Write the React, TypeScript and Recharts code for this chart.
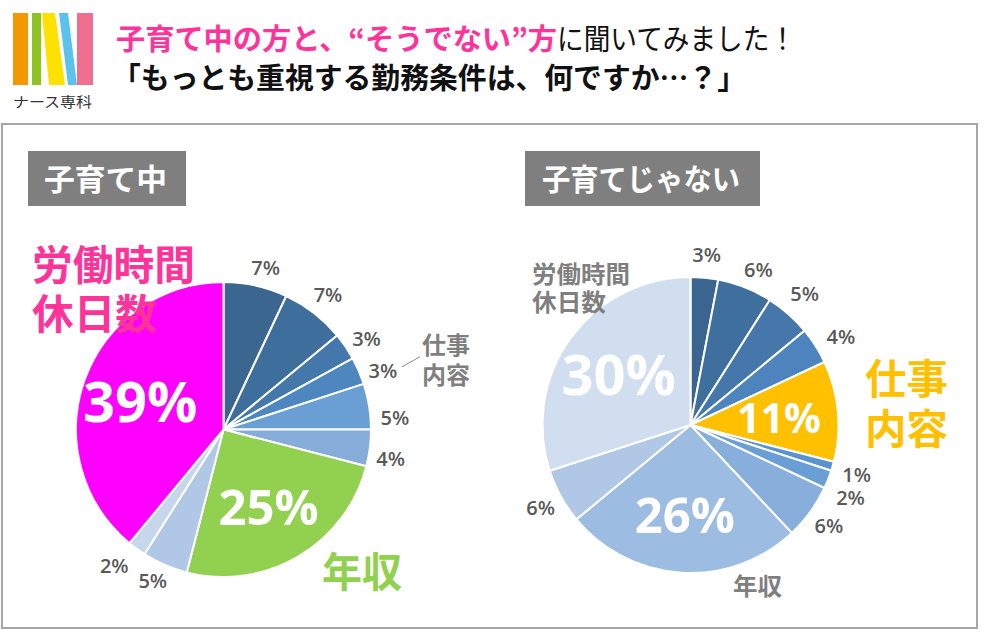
import { PieChart, Pie, Cell } from "recharts";

// 子育て中 (clockwise from 12 o'clock)
const leftCategories = ["項目A", "項目B", "項目C", "仕事内容", "項目D", "項目E", "年収", "項目F", "項目G", "労働時間・休日数"];
const leftShares = [7, 7, 3, 3, 5, 4, 25, 5, 2, 39];
const leftFeatured = ["年収", "労働時間・休日数"];

// 子育てじゃない
const rightCategories = ["項目A", "項目B", "項目C", "項目D", "仕事内容", "項目E", "項目F", "項目G", "年収", "項目H", "労働時間・休日数"];
const rightShares = [3, 6, 5, 4, 11, 1, 2, 6, 26, 6, 30];
const rightFeatured = ["仕事内容", "年収", "労働時間・休日数"];

const leftColors = ["#3A6690", "#3E6E9C", "#4477AA", "#4E87C0", "#6A9FD5", "#86ACD9", "#92D050", "#B0C8E6", "#C6D7EC", "#FF00FF"];
const rightColors = ["#3A6590", "#3F6F9D", "#4577AA", "#4E84BE", "#FFC000", "#5B93CF", "#6A9FD5", "#88AEDB", "#9DBCE2", "#B0C8E6", "#D0DEEF"];

const JP = "'Noto Sans CJK JP', 'Noto Sans', sans-serif";
const NUM = "'Open Sans', 'Noto Sans', sans-serif";
const RAD = Math.PI / 180;

const leftData = leftCategories.map((name, i) => ({ name, value: leftShares[i] }));
const rightData = rightCategories.map((name, i) => ({ name, value: rightShares[i] }));

// small hand nudges so the outside labels sit where Excel put them
const leftNudge: Record<number, [number, number]> = { 0: [5, 4], 2: [2, 5], 3: [3, 9], 4: [3, 15], 5: [-2, 8], 7: [-3, -5], 8: [-9, -2] };
const rightNudge: Record<number, [number, number]> = { 1: [5, 3], 2: [1, -3], 3: [6, 3], 5: [2, 2], 6: [1, 10] };

function makeLabel(featured: string[], bigSizes: Record<string, number>, nudge: Record<number, [number, number]>, leaderFor?: string) {
  return (props: any) => {
    const { cx, cy, midAngle, outerRadius, value, name, index } = props;
    const isBig = featured.includes(name);
    const r = isBig ? outerRadius * 0.6 : outerRadius + 23;
    const [nx, ny] = isBig ? [0, 0] : nudge[index] || [0, 0];
    const x = cx + r * Math.cos(-midAngle * RAD) + nx;
    const y = cy + r * Math.sin(-midAngle * RAD) + ny;
    if (isBig) {
      return (
        <text key={`l${index}`} x={x} y={y} fill="#fff" fontFamily={NUM} fontWeight={700}
          fontSize={bigSizes[name]} textAnchor="middle" dominantBaseline="central">
          {value}%
        </text>
      );
    }
    return (
      <g key={`l${index}`}>
        <text x={x} y={y} fill="#595959" fontFamily={NUM} fontWeight={600} fontSize={20}
          textAnchor="middle" dominantBaseline="central">
          {value}%
        </text>
        {name === leaderFor && (
          <line x1={x + 19} y1={y - 4} x2={x + 37} y2={y - 14} stroke="#8C8C8C" strokeWidth={1} />
        )}
      </g>
    );
  };
}

const leftLabel = makeLabel(leftFeatured, { "年収": 49, "労働時間・休日数": 56 }, leftNudge, "仕事内容");
const rightLabel = makeLabel(rightFeatured, { "仕事内容": 41, "年収": 49, "労働時間・休日数": 56 }, rightNudge);

function Logo() {
  return (
    <g>
      <rect x={13} y={13} width={15} height={72} fill="#F39800" />
      <rect x={32} y={13} width={9} height={72} fill="#8FC31F" />
      <polygon points="42,13 55,13 65,85 49,85" fill="#FFE100" />
      <polygon points="59,13 68,13 77,85 68,85" fill="#5BC2EE" />
      <rect x={77} y={13} width={16} height={72} fill="#EE6F8F" />
      <text x={13} y={107} fontFamily={JP} fontSize={14} fill="#333" textLength={79} lengthAdjust="spacingAndGlyphs">
        ナース専科
      </text>
    </g>
  );
}

export default function App() {
  return (
    <div style={{ position: "absolute", left: 0, top: 0, width: 983, height: 630, background: "#fff" }}>
      <svg width={983} height={630} style={{ position: "absolute", left: 0, top: 0 }}>
        <Logo />
        <text x={116} y={50} fontFamily={JP} fontWeight={700} fontSize={29} fill="#FF3399"
          textLength={441} lengthAdjust="spacingAndGlyphs">
          子育て中の方と、“そうでない”方
        </text>
        <text x={557} y={50} fontFamily={JP} fontWeight={400} fontSize={29} fill="#111"
          textLength={239} lengthAdjust="spacingAndGlyphs">
          に聞いてみました！
        </text>
        <text x={112} y={89} fontFamily={JP} fontWeight={700} fontSize={29} fill="#111"
          textLength={634} lengthAdjust="spacingAndGlyphs">
          「もっとも重視する勤務条件は、何ですか…？」
        </text>
        <rect x={2} y={124} width={975} height={504} fill="none" stroke="#A6A6A6" strokeWidth={2} />
        <rect x={28} y={151} width={158} height={55} fill="#7F7F7F" />
        <text x={44} y={190} fontFamily={JP} fontWeight={700} fontSize={30} fill="#fff"
          textLength={123} lengthAdjust="spacingAndGlyphs">
          子育て中
        </text>
        <rect x={525} y={151} width={235} height={55} fill="#7F7F7F" />
        <text x={542} y={190} fontFamily={JP} fontWeight={700} fontSize={30} fill="#fff"
          textLength={198} lengthAdjust="spacingAndGlyphs">
          子育てじゃない
        </text>
      </svg>

      <div style={{ position: "absolute", left: 0, top: 0 }}>
        <PieChart width={983} height={630} margin={{ top: 0, right: 0, bottom: 0, left: 0 }}>
          <Pie data={leftData} dataKey="value" nameKey="name" cx={223.5} cy={429.5} outerRadius={147.5}
            startAngle={90} endAngle={-270} stroke="#fff" strokeWidth={2}
            label={leftLabel} labelLine={false} isAnimationActive={false}>
            {leftData.map((d, i) => <Cell key={d.name + i} fill={leftColors[i]} />)}
          </Pie>
          <Pie data={rightData} dataKey="value" nameKey="name" cx={690.5} cy={425} outerRadius={148}
            startAngle={90} endAngle={-270} stroke="#fff" strokeWidth={2}
            label={rightLabel} labelLine={false} isAnimationActive={false}>
            {rightData.map((d, i) => <Cell key={d.name + i} fill={rightColors[i]} />)}
          </Pie>
        </PieChart>
      </div>

      <svg width={983} height={630} style={{ position: "absolute", left: 0, top: 0, pointerEvents: "none" }}>
        <g fontFamily={JP} fontWeight={700}>
          <text x={32} y={280} fontSize={41} fill="#FF3399" textLength={163} lengthAdjust="spacingAndGlyphs">労働時間</text>
          <text x={32} y={329} fontSize={41} fill="#FF3399" textLength={125} lengthAdjust="spacingAndGlyphs">休日数</text>
          <text x={322} y={587} fontSize={41} fill="#92D050" textLength={80} lengthAdjust="spacingAndGlyphs">年収</text>
          <text x={422} y={354} fontSize={24} fill="#7F7F7F" textLength={48} lengthAdjust="spacingAndGlyphs">仕事</text>
          <text x={422} y={384} fontSize={24} fill="#7F7F7F" textLength={48} lengthAdjust="spacingAndGlyphs">内容</text>

          <text x={532} y={283} fontSize={24} fill="#7F7F7F" textLength={98} lengthAdjust="spacingAndGlyphs">労働時間</text>
          <text x={532} y={311} fontSize={24} fill="#7F7F7F" textLength={74} lengthAdjust="spacingAndGlyphs">休日数</text>
          <text x={865} y={394} fontSize={41} fill="#FFC000" textLength={83} lengthAdjust="spacingAndGlyphs">仕事</text>
          <text x={865} y={444} fontSize={41} fill="#FFC000" textLength={83} lengthAdjust="spacingAndGlyphs">内容</text>
          <text x={733} y={595} fontSize={24} fill="#7F7F7F" textLength={49} lengthAdjust="spacingAndGlyphs">年収</text>
        </g>
      </svg>
    </div>
  );
}
